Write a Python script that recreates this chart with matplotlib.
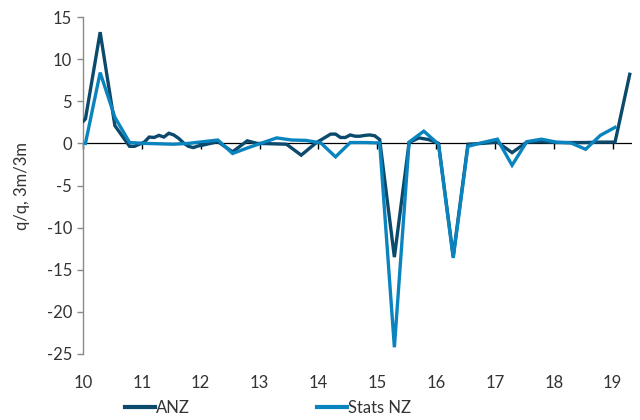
import matplotlib
matplotlib.use("Agg")
import matplotlib.pyplot as plt
import numpy as np

# ---- data ----
anz_months = ["2009-12", "2010-01", "2010-04", "2010-07", "2010-10", "2010-11", "2010-12",
              "2011-01", "2011-02", "2011-03", "2011-04", "2011-05", "2011-06", "2011-07",
              "2011-08", "2011-09", "2011-10", "2011-11", "2011-12", "2012-01", "2012-04",
              "2012-07", "2012-10", "2012-12", "2013-06", "2013-09", "2013-12", "2014-03",
              "2014-04", "2014-05", "2014-06", "2014-07", "2014-08", "2014-09", "2014-10",
              "2014-11", "2014-12", "2015-01", "2015-04", "2015-07", "2015-09", "2015-11",
              "2016-01", "2016-04", "2016-07", "2016-10", "2017-01", "2017-04", "2017-07",
              "2017-10", "2018-01", "2018-04", "2018-07", "2018-10", "2019-01", "2019-04"]
anz_values = [2.3, 2.9, 13.2, 2.1, -0.35, -0.35, -0.1,
              0.15, 0.75, 0.7, 0.95, 0.75, 1.2, 1.0,
              0.6, 0.05, -0.35, -0.5, -0.3, -0.2, 0.2,
              -1.0, 0.3, 0.0, -0.1, -1.4, 0.05, 1.1,
              1.1, 0.7, 0.7, 1.0, 0.85, 0.85, 0.95,
              1.0, 0.9, 0.45, -13.5, 0.1, 0.65, 0.45,
              0.0, -13.4, -0.1, 0.0, 0.15, -1.1, 0.15,
              0.2, 0.1, 0.1, 0.1, 0.15, 0.15, 8.2]

stats_months = ["2010-01", "2010-04", "2010-07", "2010-10", "2011-01", "2011-04", "2011-07",
                "2011-10", "2012-01", "2012-04", "2012-07", "2012-10", "2013-01", "2013-04",
                "2013-07", "2013-10", "2014-01", "2014-04", "2014-07", "2014-10", "2015-01",
                "2015-04", "2015-07", "2015-10", "2016-01", "2016-04", "2016-07", "2016-10",
                "2017-01", "2017-04", "2017-07", "2017-10", "2018-01", "2018-04", "2018-07",
                "2018-10", "2019-01"]
stats_values = [0.0, 8.4, 3.1, 0.1, 0.0, -0.05, -0.1,
                0.0, 0.2, 0.4, -1.2, -0.55, 0.05, 0.65,
                0.4, 0.35, 0.05, -1.6, 0.1, 0.1, 0.05,
                -24.2, 0.15, 1.45, -0.1, -13.6, -0.35, 0.1,
                0.5, -2.6, 0.2, 0.5, 0.15, 0.05, -0.7,
                0.95, 1.9]

year_ticks = [10, 11, 12, 13, 14, 15, 16, 17, 18, 19]
y_ticks = [-25, -20, -15, -10, -5, 0, 5, 10, 15]


def to_x(m):
    y, mo = m.split("-")
    return int(y) - 2000 + (int(mo) - 0.5) / 12.0


anz_x = [to_x(m) for m in anz_months]
stats_x = [to_x(m) for m in stats_months]

plt.rcParams["axes.unicode_minus"] = False
plt.rcParams["font.family"] = ["Lato", "DejaVu Sans"]

TXT = "#333333"
FS = 12
ANZ_C = "#0B4A6D"
STATS_C = "#0A84BF"

fig = plt.figure(figsize=(6.4, 4.2), dpi=100)
ax = fig.add_axes([83 / 640, 1 - 354 / 420, (632 - 83) / 640, (354 - 17) / 420])

l1, = ax.plot(anz_x, anz_values, color=ANZ_C, lw=2.4, solid_joinstyle="miter", label="ANZ", zorder=3)
l2, = ax.plot(stats_x, stats_values, color=STATS_C, lw=2.4, solid_joinstyle="miter", label="Stats NZ", zorder=4)

ax.set_xlim(10, 19.33)
ax.set_ylim(-25, 15)
ax.axhline(0, color="black", lw=0.9, zorder=2)

for s in ["top", "right", "bottom"]:
    ax.spines[s].set_visible(False)
ax.spines["left"].set_color("#8a8a8a")
ax.spines["left"].set_linewidth(1.0)

ax.set_yticks(y_ticks)
ax.set_yticklabels([str(v) for v in y_ticks])
ax.tick_params(axis="y", direction="out", length=4, width=1, color="#8a8a8a",
               labelsize=FS, labelcolor=TXT, pad=4)
ax.set_xticks(year_ticks)
ax.set_xticklabels([str(v) for v in year_ticks])
ax.tick_params(axis="x", length=0, labelsize=FS, labelcolor=TXT, pad=15)

sec = ax.secondary_xaxis((0 - (-25)) / (15 - (-25)))
sec.xaxis.set_ticks_position("bottom")
sec.set_xticks(year_ticks)
sec.set_xticklabels([])
sec.tick_params(axis="x", which="both", direction="out", length=4, width=1, color="black",
                top=False, bottom=True)
sec.spines["bottom"].set_visible(False)
sec.spines["top"].set_visible(False)

ax.set_ylabel("q/q, 3m/3m", fontsize=FS, color=TXT, labelpad=12)

leg = fig.legend(handles=[l1, l2], loc="center", bbox_to_anchor=(268 / 640, 1 - 408 / 420),
                 ncol=2, frameon=False, fontsize=FS, handlelength=1.8, handletextpad=0.1,
                 columnspacing=7.6, labelcolor=TXT)
for h in leg.legend_handles:
    h.set_linewidth(3)

fig.savefig("out.png", dpi=100)
